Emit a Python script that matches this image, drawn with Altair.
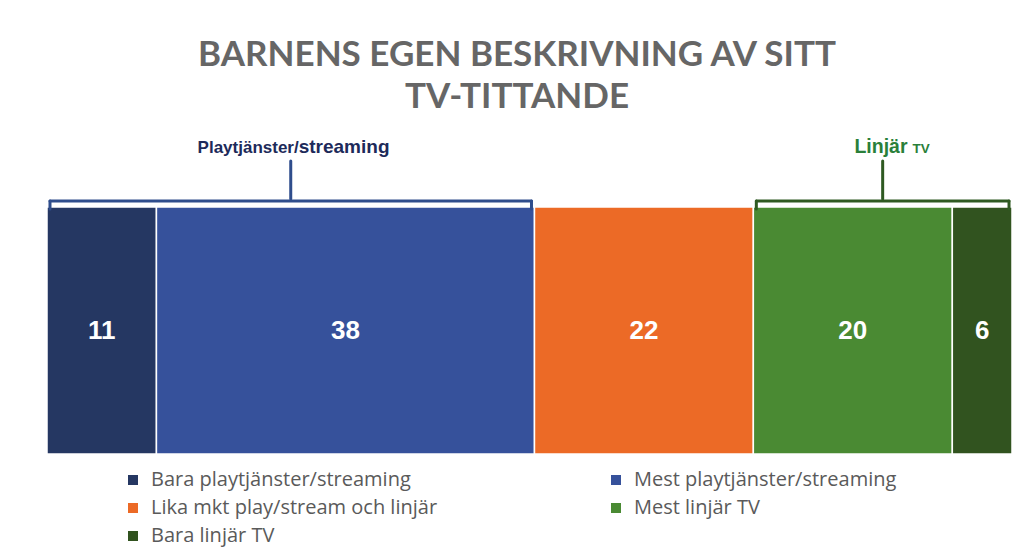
import altair as alt
import pandas as pd

# ---- data ----
categories = [
    "Bara playtjänster/streaming",
    "Mest playtjänster/streaming",
    "Lika mkt play/stream och linjär",
    "Mest linjär TV",
    "Bara linjär TV",
]
values = [11, 38, 22, 20, 6]
colors = ["#253762", "#36519B", "#EC6A26", "#4A8A33", "#31531F"]

# legend is laid out column by column in two columns: reorder so it reads row by row
legend_order = [0, 2, 4, 1, 3]

group_names = ["Playtjänster/", "Linjär"]
group_suffix = ["streaming", "TV"]
group_members = [[0, 1], [3, 4]]
brace_colors = ["#2F4D8C", "#2F5A22"]
label_colors = ["#1D2A5A", "#2A7F3A"]
name_sizes = [17, 19.5]
suffix_sizes = [19, 13.5]
name_shift = [0.8, 2.5]     # label offset from brace centre, in value units
suffix_shift = [0.8, 3.0]

title_lines = ["BARNENS EGEN BESKRIVNING AV SITT", "TV-TITTANDE"]

total = sum(values)

# ---- tables ----
starts = [sum(values[:i]) for i in range(len(values))]
bars = pd.DataFrame({
    "cat": categories,
    "value": values,
    "start": starts,
    "end": [s + v for s, v in zip(starts, values)],
})
bars["mid"] = (bars["start"] + bars["end"]) / 2

inset = 0.3
brace_rows = []
for gi, mem in enumerate(group_members):
    g0 = starts[mem[0]]
    g1 = starts[mem[-1]] + values[mem[-1]]
    c = (g0 + g1) / 2
    brace_rows.append({
        "g": gi,
        "x0": g0 + inset,
        "x1": g1 - inset,
        "c": c,
        "nx": c + name_shift[gi],
        "sx": c + suffix_shift[gi],
        "name": group_names[gi],
        "suffix": group_suffix[gi],
        "nsize": name_sizes[gi],
        "ssize": suffix_sizes[gi],
        "bcol": brace_colors[gi],
        "lcol": label_colors[gi],
    })
braces = pd.DataFrame(brace_rows)

W, H = 965, 558
xscale = alt.Scale(domain=[0, total], range=[0, W], nice=False, zero=True)

bar_layer = alt.Chart(bars).mark_bar(stroke="white", strokeWidth=1.5).encode(
    x=alt.X("start:Q", scale=xscale, axis=None),
    x2="end:Q",
    y=alt.value(207),
    y2=alt.value(454),
    color=alt.Color(
        "cat:N",
        scale=alt.Scale(domain=[categories[i] for i in legend_order],
                        range=[colors[i] for i in legend_order]),
        legend=alt.Legend(
            title=None,
            orient="none",
            legendX=76,
            legendY=470,
            columns=2,
            columnPadding=168,
            rowPadding=8,
            symbolType="square",
            symbolSize=100,
            symbolStrokeWidth=0,
            labelFont="Open Sans",
            labelFontSize=20,
            labelColor="#5a5a5a",
            labelOffset=8,
            labelLimit=400,
        ),
    ),
)

value_text = alt.Chart(bars).mark_text(
    color="white", font="Liberation Sans", fontWeight="bold", fontSize=26,
    baseline="middle", align="center",
).encode(
    x=alt.X("mid:Q", scale=xscale),
    y=alt.value(331),
    text="value:Q",
)

hline = alt.Chart(braces).mark_rule(strokeWidth=3, strokeCap="round").encode(
    x=alt.X("x0:Q", scale=xscale), x2="x1:Q",
    y=alt.value(201),
    color=alt.Color("bcol:N", scale=None),
)
lend = alt.Chart(braces).mark_rule(strokeWidth=3, strokeCap="round").encode(
    x=alt.X("x0:Q", scale=xscale),
    y=alt.value(201), y2=alt.value(209),
    color=alt.Color("bcol:N", scale=None),
)
rend = alt.Chart(braces).mark_rule(strokeWidth=3, strokeCap="round").encode(
    x=alt.X("x1:Q", scale=xscale),
    y=alt.value(201), y2=alt.value(209),
    color=alt.Color("bcol:N", scale=None),
)
stem = alt.Chart(braces).mark_rule(strokeWidth=3, strokeCap="round").encode(
    x=alt.X("c:Q", scale=xscale),
    y=alt.value(161), y2=alt.value(199),
    color=alt.Color("bcol:N", scale=None),
)

name_text = alt.Chart(braces).mark_text(
    font="Liberation Sans", fontWeight="bold", align="right", baseline="alphabetic",
).encode(
    x=alt.X("nx:Q", scale=xscale),
    y=alt.value(153),
    text="name:N",
    size=alt.Size("nsize:Q", scale=None, legend=None),
    color=alt.Color("lcol:N", scale=None),
)
suffix_text = alt.Chart(braces).mark_text(
    font="Liberation Sans", fontWeight="bold", align="left", baseline="alphabetic",
).encode(
    x=alt.X("sx:Q", scale=xscale),
    y=alt.value(153),
    text="suffix:N",
    size=alt.Size("ssize:Q", scale=None, legend=None),
    color=alt.Color("lcol:N", scale=None),
)

title_df = pd.DataFrame({"t": title_lines, "i": list(range(len(title_lines)))})
title_text = alt.Chart(title_df).mark_text(
    font="Lato", fontWeight="bold", fontSize=35, color="#666666",
    align="center", baseline="alphabetic",
).encode(
    x=alt.value(470),
    y=alt.Y("i:Q", scale=alt.Scale(domain=[0, 1], range=[66, 108]), axis=None),
    text="t:N",
)

chart = alt.layer(
    bar_layer, value_text, hline, lend, rend, stem, name_text, suffix_text, title_text
).resolve_scale(color="independent", y="independent", size="independent").properties(
    width=W,
    height=H,
    padding={"left": 47, "top": 0, "right": 12, "bottom": 0},
    autosize=alt.AutoSizeParams(type="none"),
    background="white",
).configure_view(stroke=None)

chart.save("out.html", embed_options={"renderer": "svg", "actions": False})
